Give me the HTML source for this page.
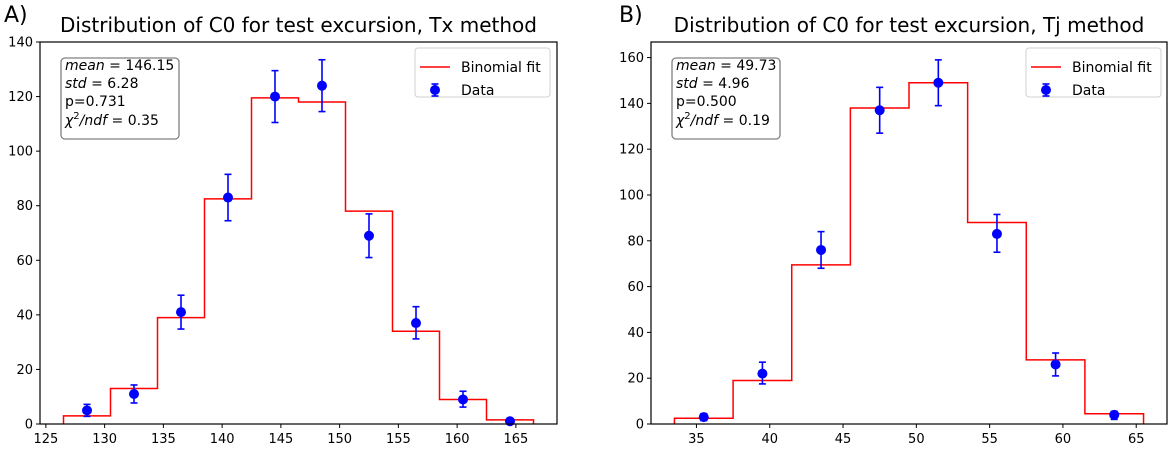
<!DOCTYPE html>
<html><head><meta charset="utf-8"><style>
html,body{margin:0;padding:0;background:#fff}
svg{display:block;font-family:"DejaVu Sans","Liberation Sans",sans-serif}
</style></head><body>
<svg id="fig" width="1170" height="449" viewBox="0 0 1170 449" xmlns="http://www.w3.org/2000/svg"></svg>
<script>
// Panel A data
const aCenters=[128.5,132.5,136.5,140.5,144.5,148.5,152.5,156.5,160.5,164.5];
const aFit=[3,13,39,82.5,119.5,118,78,34,9,1.5];
const aData=[5,11,41,83,120,124,69,37,9,1];
const aErrLo=[2.2,3.3,6.2,8.5,9.5,9.5,8,5.8,2.8,1];
const aErrHi=[2.2,3.3,6.2,8.5,9.5,9.5,8,6,3,0.8];
const aXTicks=[125,130,135,140,145,150,155,160,165];
const aYTicks=[0,20,40,60,80,100,120,140];
const aStats=["mean = 146.15","std = 6.28","p=0.731","χ²/ndf = 0.35"];
// Panel B data
const bCenters=[35.5,39.5,43.5,47.5,51.5,55.5,59.5,63.5];
const bFit=[2.5,19,69.5,138,149,88,28,4.5];
const bData=[3,22,76,137,149,83,26,4];
const bErrLo=[1.5,4.5,8,10,10,8,5,2];
const bErrHi=[1.5,5,8,10,10,8.5,5,1.5];
const bXTicks=[35,40,45,50,55,60,65];
const bYTicks=[0,20,40,60,80,100,120,140,160];
const bStats=["mean = 49.73","std = 4.96","p=0.500","χ²/ndf = 0.19"];

const NS="http://www.w3.org/2000/svg";
const svg=document.getElementById('fig');
function mk(tag,attrs,parent){const e=document.createElementNS(NS,tag);for(const k in attrs)e.setAttribute(k,attrs[k]);(parent||svg).appendChild(e);return e;}

function panel(o){
  const g=mk('g',{});
  
  
  const sx=v=>o.L+(v-o.x0)/(o.x1-o.x0)*(o.R-o.L);
  const sy=v=>o.B-(v-o.y0)/(o.y1-o.y0)*(o.B-o.T);
  const lt=mk('text',{x:o.letterX,y:22,'font-size':22,fill:'#000'},g);lt.textContent=o.letter;
  
  
  const tt=mk('text',{x:(o.L+o.R)/2,y:32,'font-size':20,'text-anchor':'middle',fill:'#000'},g);tt.textContent=o.title;
  
  
  o.xt.forEach(v=>{const x=sx(v);
    mk('line',{x1:x,x2:x,y1:o.B,y2:o.B+4,stroke:'#000','stroke-width':1},g);
    const t=mk('text',{x:x,y:o.B+19,'font-size':13,'text-anchor':'middle',fill:'#000'},g);t.textContent=v;
    
    
  });
  o.yt.forEach(v=>{const y=sy(v);
    mk('line',{x1:o.L-4,x2:o.L,y1:y,y2:y,stroke:'#000','stroke-width':1},g);
    const t=mk('text',{x:o.L-7,y:y+4.5,'font-size':13,'text-anchor':'end',fill:'#000'},g);t.textContent=v;
    
    
  });
  let d='';const w=o.binW/2;
  o.c.forEach((c,i)=>{const xl=sx(c-w),xr=sx(c+w),y=sy(o.fit[i]);
    if(i===0)d+=`M${xl},${sy(0)}L${xl},${y}`;else d+=`L${xl},${y}`;
    d+=`L${xr},${y}`;
    if(i===o.c.length-1)d+=`L${xr},${sy(0)}`;});
  const p=mk('path',{d:d,fill:'none',stroke:'#ff0000','stroke-width':1.5},g);
  
  
  o.c.forEach((c,i)=>{const x=sx(c),y=sy(o.d[i]),yl=sy(o.d[i]-o.lo[i]),yh=sy(o.d[i]+o.hi[i]);
    const eg=mk('g',{},g);
    
    
    mk('line',{x1:x,x2:x,y1:yl,y2:yh,stroke:'#0000ff','stroke-width':1.6},eg);
    mk('line',{x1:x-3.5,x2:x+3.5,y1:yl,y2:yl,stroke:'#0000ff','stroke-width':1.6},eg);
    mk('line',{x1:x-3.5,x2:x+3.5,y1:yh,y2:yh,stroke:'#0000ff','stroke-width':1.6},eg);
    mk('circle',{cx:x,cy:y,r:5,fill:'#0000ff'},eg);
  });
  const fr=mk('rect',{x:o.L,y:o.T,width:o.R-o.L,height:o.B-o.T,fill:'none',stroke:'#000','stroke-width':1.2},g);
  
  
  const sb=mk('g',{},g);
  
  
  mk('rect',{x:o.sbx,y:58,width:o.sbw,height:81,rx:4,fill:'#fff',stroke:'#808080','stroke-width':1.3},sb);
  const ys=[70,88,106,125];
  o.stats.forEach((s,i)=>{
    const t=mk('text',{x:o.sbx+4,y:ys[i],'font-size':14,fill:'#000'},sb);
    if(i===0){t.innerHTML='<tspan font-style="italic">mean</tspan> = '+s.split('= ')[1];}
    else if(i===1){t.innerHTML='<tspan font-style="italic">std</tspan> = '+s.split('= ')[1];}
    else if(i===3){t.innerHTML='<tspan font-style="italic">χ</tspan><tspan font-size="10" dy="-6">2</tspan><tspan dy="6" font-style="italic">/ndf</tspan> = '+s.split('= ')[1];}
    else t.textContent=s;
  });
  const lg=mk('g',{},g);
  
  
  mk('rect',{x:o.lgx,y:48,width:135,height:49,rx:3,fill:'#fff',stroke:'#d0d0d0','stroke-width':1},lg);
  mk('line',{x1:o.lgx+5,x2:o.lgx+35,y1:67,y2:67,stroke:'#ff0000','stroke-width':1.5},lg);
  const l1=mk('text',{x:o.lgx+46,y:72,'font-size':14,fill:'#000'},lg);l1.textContent='Binomial fit';
  const cx=o.lgx+20;
  mk('line',{x1:cx,x2:cx,y1:84,y2:96,stroke:'#0000ff','stroke-width':1.6},lg);
  mk('line',{x1:cx-3.5,x2:cx+3.5,y1:84,y2:84,stroke:'#0000ff','stroke-width':1.6},lg);
  mk('line',{x1:cx-3.5,x2:cx+3.5,y1:96,y2:96,stroke:'#0000ff','stroke-width':1.6},lg);
  mk('circle',{cx:cx,cy:90,r:5,fill:'#0000ff'},lg);
  const l2=mk('text',{x:o.lgx+46,y:95,'font-size':14,fill:'#000'},lg);l2.textContent='Data';
}
panel({name:'panel-a-tx',letter:'A)',letterX:4,title:'Distribution of C0 for test excursion, Tx method',
  L:40,R:557,T:42,B:424,x0:124.5,x1:168.5,y0:0,y1:140,binW:4,
  c:aCenters,fit:aFit,d:aData,lo:aErrLo,hi:aErrHi,xt:aXTicks,yt:aYTicks,stats:aStats,sbx:61,sbw:118,lgx:415});
panel({name:'panel-b-tj',letter:'B)',letterX:619,title:'Distribution of C0 for test excursion, Tj method',
  L:651,R:1167,T:42,B:424,x0:31.9,x1:67.1,y0:0,y1:166.8,binW:4,
  c:bCenters,fit:bFit,d:bData,lo:bErrLo,hi:bErrHi,xt:bXTicks,yt:bYTicks,stats:bStats,sbx:672,sbw:108,lgx:1026});
</script>
</body></html>
